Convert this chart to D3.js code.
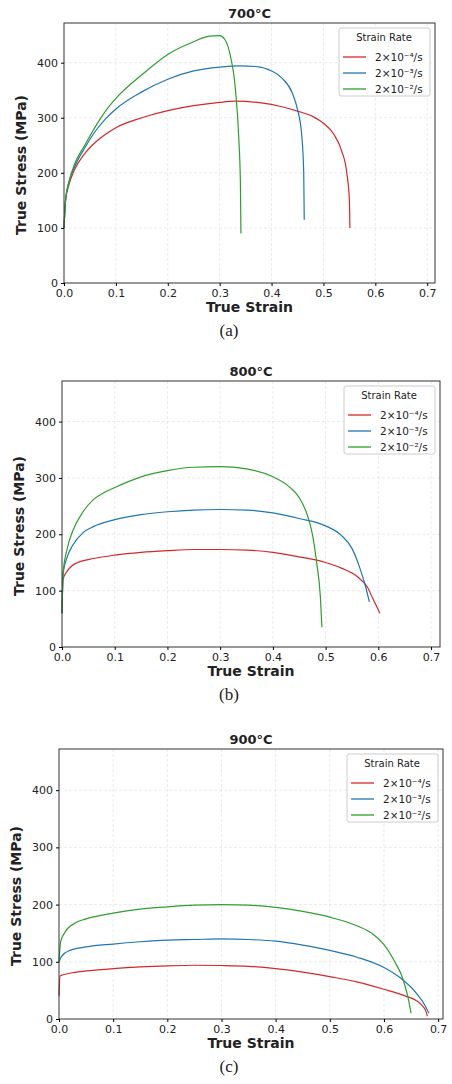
<!DOCTYPE html>
<html lang="en">
<head>
<meta charset="UTF-8">
<script src="https://d3js.org/d3.v7.min.js"></script>
<style>
    body { margin: 0; background: #fff; }
    text { font-family: "DejaVu Sans", sans-serif; fill: #222; }
    .grid line { stroke: #ddd; stroke-dasharray: 3,2; stroke-width: 0.6; }
    .tick text { font-size: 11px; }
</style>
</head>
<body>
<svg id="chart" width="452" height="1084"></svg>
<script>
// data: [strain, stress]
var titles = ["700°C", "800°C", "900°C"];
var captions = ["(a)", "(b)", "(c)"];
var rateLabels = ["2×10⁻⁴/s", "2×10⁻³/s", "2×10⁻²/s"];
var colors = ["#d62728", "#1f77b4", "#2ca02c"];
var xTicks = [0, 0.1, 0.2, 0.3, 0.4, 0.5, 0.6, 0.7];
var yTicks = [0, 100, 200, 300, 400];

var red700 = [[0,100],[0.003,150],[0.01,180],[0.02,205],[0.04,235],[0.06,255],[0.08,270],[0.1,282],[0.15,300],[0.2,313],[0.25,322],[0.3,328],[0.33,330],[0.38,327],[0.42,320],[0.45,312],[0.48,302],[0.5,290],[0.52,270],[0.535,240],[0.545,200],[0.55,150],[0.551,100]];
var blue700 = [[0,100],[0.003,150],[0.01,185],[0.02,210],[0.04,245],[0.06,275],[0.08,298],[0.1,316],[0.15,347],[0.2,370],[0.25,385],[0.3,392],[0.34,394],[0.37,393],[0.4,385],[0.42,372],[0.44,345],[0.45,315],[0.458,270],[0.462,200],[0.463,115]];
var green700 = [[0,100],[0.003,150],[0.01,185],[0.02,215],[0.04,250],[0.06,283],[0.08,312],[0.1,335],[0.15,378],[0.2,415],[0.25,438],[0.28,448],[0.3,449],[0.31,442],[0.32,415],[0.33,355],[0.337,260],[0.34,180],[0.341,90]];

var red800 = [[0,60],[0.002,120],[0.01,135],[0.03,150],[0.06,157],[0.1,163],[0.15,168],[0.2,171],[0.25,173],[0.3,173],[0.35,172],[0.4,168],[0.45,160],[0.5,150],[0.53,140],[0.56,125],[0.58,105],[0.59,85],[0.603,60]];
var blue800 = [[0,60],[0.002,130],[0.01,160],[0.02,180],[0.04,203],[0.06,214],[0.1,226],[0.15,235],[0.2,240],[0.25,243],[0.3,244],[0.35,243],[0.4,238],[0.45,228],[0.5,215],[0.53,198],[0.55,175],[0.565,140],[0.575,110],[0.583,80]];
var green800 = [[0,60],[0.002,130],[0.01,175],[0.02,205],[0.04,240],[0.06,262],[0.08,274],[0.1,283],[0.15,302],[0.2,313],[0.25,319],[0.3,320],[0.35,316],[0.4,302],[0.43,285],[0.45,265],[0.465,235],[0.475,200],[0.483,150],[0.49,90],[0.493,35]];

var red900 = [[0,40],[0.002,75],[0.02,80],[0.05,84],[0.1,88],[0.15,91],[0.2,93],[0.25,94],[0.3,93.5],[0.35,92],[0.4,88],[0.45,82],[0.5,74],[0.55,65],[0.6,52],[0.64,40],[0.66,32],[0.672,22],[0.678,12],[0.68,5]];
var blue900 = [[0,100],[0.005,110],[0.02,120],[0.05,126],[0.1,131],[0.15,135],[0.2,138],[0.25,139],[0.3,140],[0.35,139],[0.4,136],[0.45,129],[0.5,120],[0.55,108],[0.6,90],[0.63,72],[0.66,45],[0.675,25],[0.683,10]];
var green900 = [[0,100],[0.003,135],[0.01,150],[0.03,168],[0.05,175],[0.1,185],[0.15,192],[0.2,196],[0.25,199],[0.3,200],[0.35,199],[0.4,195],[0.45,188],[0.5,178],[0.55,163],[0.58,148],[0.6,130],[0.62,100],[0.635,70],[0.645,35],[0.65,10]];

var panelSeries = [[red700, blue700, green700], [red800, blue800, green800], [red900, blue900, green900]];

/* panel frames: left, right, top, bottom, xmax */
var frames = [
    {l: 64, r: 435, t: 23, b: 283, xmax: 0.715},
    {l: 62, r: 440, t: 381, b: 647, xmax: 0.717},
    {l: 59, r: 443, t: 749, b: 1019, xmax: 0.709}
];

var svg = d3.select("#chart");

frames.forEach(function(f, i) {
    var x = d3.scaleLinear().domain([0, f.xmax]).range([f.l, f.r]);
    var y = d3.scaleLinear().domain([0, 472]).range([f.b, f.t]);
    var g = svg.append("g");

    g.append("g").attr("class", "grid")
        .selectAll("line.v").data(xTicks.slice(1)).enter().append("line")
        .attr("x1", d => x(d)).attr("x2", d => x(d)).attr("y1", f.t).attr("y2", f.b);
    g.append("g").attr("class", "grid")
        .selectAll("line.h").data(yTicks.slice(1)).enter().append("line")
        .attr("x1", f.l).attr("x2", f.r).attr("y1", d => y(d)).attr("y2", d => y(d));

    var line = d3.line().x(d => x(d[0])).y(d => y(d[1])).curve(d3.curveMonotoneX);
    panelSeries[i].forEach(function(s, k) {
        g.append("path").datum(s).attr("d", line)
            .attr("fill", "none").attr("stroke", colors[k]).attr("stroke-width", 1.2);
    });

    g.append("rect").attr("x", f.l).attr("y", f.t).attr("width", f.r - f.l).attr("height", f.b - f.t)
        .attr("fill", "none").attr("stroke", "#333").attr("stroke-width", 1);

    g.append("g").attr("transform", "translate(0," + f.b + ")")
        .call(d3.axisBottom(x).tickValues(xTicks).tickFormat(d3.format(".1f")).tickSize(3))
        .call(a => a.select(".domain").remove());
    g.append("g").attr("transform", "translate(" + f.l + ",0)")
        .call(d3.axisLeft(y).tickValues(yTicks).tickSize(3))
        .call(a => a.select(".domain").remove());

    var cx = (f.l + f.r) / 2;
    g.append("text").attr("x", cx).attr("y", f.t - 5).attr("text-anchor", "middle")
        .attr("font-size", 13).attr("font-weight", "bold").text(titles[i]);
    g.append("text").attr("x", cx).attr("y", f.b + 29).attr("text-anchor", "middle")
        .attr("font-size", 14).attr("font-weight", "bold").text("True Strain");
    g.append("text").attr("transform", "translate(" + (f.l - 38) + "," + ((f.t + f.b) / 2 + 12) + ") rotate(-90)")
        .attr("text-anchor", "middle").attr("font-size", 14).attr("font-weight", "bold").text("True Stress (MPa)");
    g.append("text").attr("x", 229).attr("y", f.b + 53).attr("text-anchor", "middle")
        .style("font-family", "'Liberation Serif', serif").attr("font-size", 17).text(captions[i]);

    // legend
    var lx = f.r - 96, ly = f.t + 5;
    var lg = g.append("g").attr("transform", "translate(" + lx + "," + ly + ")");
    lg.append("rect").attr("width", 91).attr("height", 68).attr("rx", 2)
        .attr("fill", "#fff").attr("stroke", "#ccc");
    lg.append("text").attr("x", 45).attr("y", 13).attr("text-anchor", "middle")
        .attr("font-size", 10).text("Strain Rate");
    rateLabels.forEach(function(t, k) {
        var yy = 29 + k * 16;
        lg.append("line").attr("x1", 4).attr("x2", 27).attr("y1", yy).attr("y2", yy)
            .attr("stroke", colors[k]).attr("stroke-width", 1.3);
        lg.append("text").attr("x", 36).attr("y", yy + 4).attr("font-size", 10.5).text(t);
    });
});
</script>
</body>
</html>
